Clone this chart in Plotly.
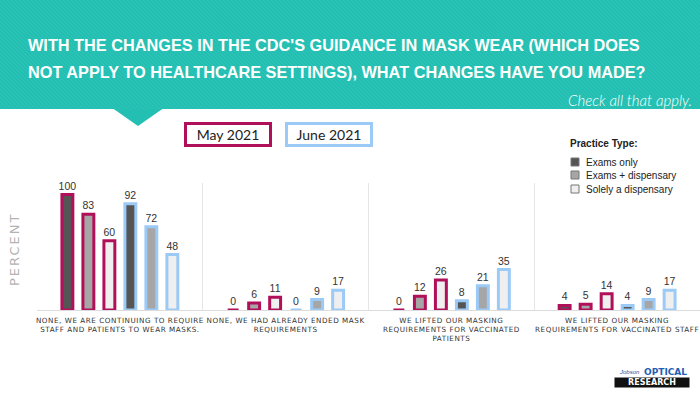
import plotly.graph_objects as go

# ---------------- data ----------------
categories = [
    "NONE, WE ARE CONTINUING TO REQUIRE<br>STAFF AND PATIENTS TO WEAR MASKS.",
    "NONE, WE HAD ALREADY ENDED MASK<br>REQUIREMENTS",
    "WE LIFTED OUR MASKING<br>REQUIREMENTS FOR VACCINATED<br>PATIENTS",
    "WE LIFTED OUR MASKING<br>REQUIREMENTS FOR VACCINATED STAFF",
]
practice_types = ["Exams only", "Exams + dispensary", "Solely a dispensary"]
periods = ["May 2021", "June 2021"]

may_exams_only = [100, 0, 0, 4]
may_exams_disp = [83, 6, 12, 5]
may_solely_disp = [60, 11, 26, 14]
june_exams_only = [92, 0, 8, 4]
june_exams_disp = [72, 9, 21, 9]
june_solely_disp = [48, 17, 35, 17]

title_lines = [
    "WITH THE CHANGES IN THE CDC'S GUIDANCE IN MASK WEAR (WHICH DOES",
    "NOT APPLY TO HEALTHCARE SETTINGS), WHAT CHANGES HAVE YOU MADE?",
]

# ---------------- styles ----------------
W, H = 700, 394
L, R, T, B = 37, 0, 183, 84
PW, PH = W - L - R, H - T - B
YMAX = 110

fill_colors = {"Exams only": "#555555", "Exams + dispensary": "#a6a6a6", "Solely a dispensary": "#efefef"}
border_colors = {"May 2021": "#b0105a", "June 2021": "#9ccaf7"}
TEAL = "#22bfb2"
STRIPE = "#3fcabd"


def px(x):
    return (x - L) / PW


def py(y):
    return (H - B - y) / PH


series = [
    ("May 2021", "Exams only", may_exams_only),
    ("May 2021", "Exams + dispensary", may_exams_disp),
    ("May 2021", "Solely a dispensary", may_solely_disp),
    ("June 2021", "Exams only", june_exams_only),
    ("June 2021", "Exams + dispensary", june_exams_disp),
    ("June 2021", "Solely a dispensary", june_solely_disp),
]

fig = go.Figure()
for period, ptype, vals in series:
    fig.add_trace(go.Bar(
        x=categories, y=vals, name=f"{period} - {ptype}",
        marker=dict(color=fill_colors[ptype], line=dict(color=border_colors[period], width=3)),
        text=[str(v) for v in vals], textposition="outside", constraintext="none",
        textfont=dict(family="Liberation Sans, Arial", size=10.5, color="#333333"),
        cliponaxis=False, showlegend=False, hoverinfo="skip",
    ))

shapes = []
# header band
shapes.append(dict(type="rect", xref="paper", yref="paper", x0=px(0), x1=px(W), y0=py(109), y1=py(0),
                   fillcolor=TEAL, line=dict(width=0), layer="below"))
shapes.append(dict(type="path", xref="paper", yref="paper",
                   path=f"M {px(113)} {py(108.5)} L {px(163)} {py(108.5)} L {px(138)} {py(126)} Z",
                   fillcolor=TEAL, line=dict(width=0), layer="below"))
# subtle diagonal stripes
segs = []
c = -109
while c < W:
    x0, y0 = c, 0
    x1, y1 = c + 109, 109
    if x0 < 0:
        y0 = -x0
        x0 = 0
    if x1 > W:
        y1 = 109 - (x1 - W)
        x1 = W
    if x1 > x0:
        segs.append(f"M {px(x0):.5f} {py(y0):.5f} L {px(x1):.5f} {py(y1):.5f}")
    c += 4
shapes.append(dict(type="path", xref="paper", yref="paper", path=" ".join(segs),
                   line=dict(color=STRIPE, width=1), opacity=0.5, layer="below"))

# practice-type legend swatches
legend_y = [162, 175, 189]
for ptype, yy in zip(practice_types, legend_y):
    shapes.append(dict(type="rect", xref="paper", yref="paper",
                       x0=px(571), x1=px(579), y0=py(yy + 4), y1=py(yy - 4),
                       fillcolor=fill_colors[ptype], line=dict(color="#777777", width=1)))

annotations = []
for line, yy in zip(title_lines, [45, 72]):
    annotations.append(dict(text=line, xref="paper", yref="paper", x=px(26), y=py(yy), xanchor="left",
                            yanchor="middle", align="left", showarrow=False,
                            font=dict(family="Liberation Sans, Arial", size=16.3, color="white", weight="bold")))
annotations += [
    dict(text="<i>Check all that apply.</i>", xref="paper", yref="paper", x=px(694), y=py(100),
         xanchor="right", yanchor="middle", showarrow=False,
         font=dict(family="Lato, Open Sans, sans-serif", size=15, color="white", weight=300)),
    dict(text="PERCENT", xref="paper", yref="paper", x=px(14), y=py(250), textangle=-90,
         xanchor="center", yanchor="middle", showarrow=False, name="ytitle",
         font=dict(family="DejaVu Sans", size=13, color="#b3b3b3")),
    dict(text="Practice Type:", xref="paper", yref="paper", x=px(568), y=py(143), xanchor="left", yanchor="middle",
         showarrow=False, font=dict(family="Liberation Sans", size=10, color="#222222", weight="bold")),
]
for ptype, yy in zip(practice_types, legend_y):
    annotations.append(dict(text=ptype, xref="paper", yref="paper", x=px(584), y=py(yy), xanchor="left",
                            yanchor="middle", showarrow=False,
                            font=dict(family="Liberation Sans", size=10, color="#222222")))
for period, cx in zip(periods, [228, 329]):
    annotations.append(dict(text=period, xref="paper", yref="paper", x=px(cx), y=py(134), xanchor="center",
                            yanchor="middle", showarrow=False, width=80, height=17,
                            bordercolor=border_colors[period], borderwidth=3, borderpad=1, bgcolor="white",
                            font=dict(family="Lato, sans-serif", size=14, color="#222222")))
# logo
annotations.append(dict(text="<i>Jobson</i>", xref="paper", yref="paper", x=px(617), y=py(372), xanchor="left",
                        yanchor="middle", showarrow=False, font=dict(family="Liberation Sans", size=6, color="#1f4e96")))
annotations.append(dict(text="OPTICAL", xref="paper", yref="paper", x=px(689), y=py(372), xanchor="right",
                        yanchor="middle", showarrow=False,
                        font=dict(family="DejaVu Sans", size=9, color="#1f5fb4", weight="bold")))
annotations.append(dict(text="RESEARCH", xref="paper", yref="paper", x=px(652), y=py(382), xanchor="center",
                        yanchor="middle", showarrow=False, bgcolor="#111111", width=74, height=9, borderpad=0,
                        font=dict(family="DejaVu Sans", size=8, color="white", weight="bold")))

fig.update_layout(
    width=W, height=H, margin=dict(l=L, r=R, t=T, b=B, autoexpand=False),
    paper_bgcolor="white", plot_bgcolor="white",
    barmode="group", bargap=0.24, bargroupgap=0.48,
    shapes=shapes, annotations=annotations,
    xaxis=dict(showgrid=True, tickson="boundaries", gridcolor="#e6e6e6", gridwidth=1,
               showline=True, linecolor="#dcdcdc", linewidth=1, ticks="", ticklen=0,
               tickangle=0, automargin=False, ticklabelstandoff=3,
               tickfont=dict(family="DejaVu Sans", size=7.2, color="#333333"), fixedrange=True),
    yaxis=dict(range=[0, YMAX], showticklabels=False, showgrid=False, zeroline=False, showline=False,
               fixedrange=True, automargin=False),
)

post = """
document.body.style.margin='0';
document.body.style.overflow='hidden';
var gd = document.getElementById('{plot_id}');
function spacing(){
  gd.querySelectorAll('.xtick text').forEach(function(t){ t.style.letterSpacing='0.55px'; });
  gd.querySelectorAll('.annotation-text').forEach(function(t){
    if (t.textContent === 'PERCENT') { t.style.letterSpacing='2px'; }
  });
}
spacing();
if (gd.on) { gd.on('plotly_afterplot', spacing); }
"""

fig.write_html("out.html", post_script=post, config={"displayModeBar": False, "staticPlot": True})
